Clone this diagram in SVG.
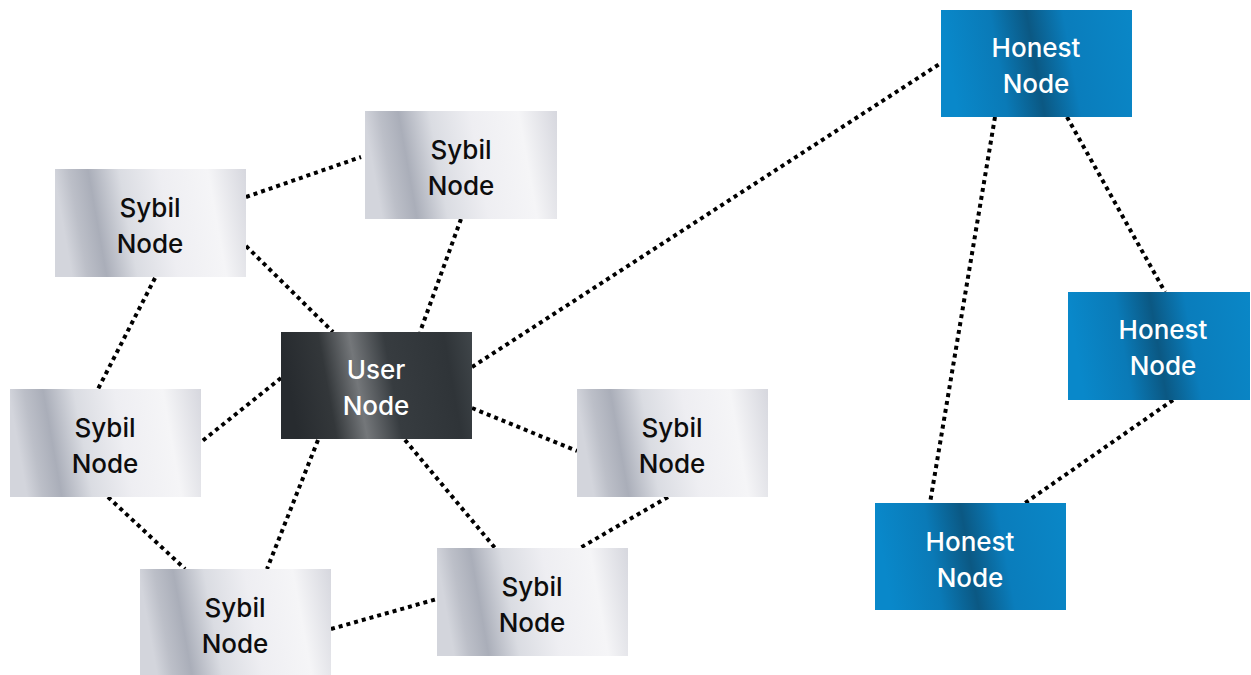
<svg xmlns="http://www.w3.org/2000/svg" width="1251" height="675" viewBox="0 0 1251 675">
  <defs>
    <linearGradient id="gSybil" x1="0" y1="0.1" x2="1" y2="0">
      <stop offset="0" stop-color="#d3d5dc"/>
      <stop offset="0.08" stop-color="#bcbfc8"/>
      <stop offset="0.18" stop-color="#aaaeb9"/>
      <stop offset="0.34" stop-color="#dadce2"/>
      <stop offset="0.55" stop-color="#eeeef2"/>
      <stop offset="0.8" stop-color="#f5f5f7"/>
      <stop offset="1" stop-color="#d6d7de"/>
    </linearGradient>
    <linearGradient id="gUser" x1="0" y1="0.1" x2="1" y2="0">
      <stop offset="0" stop-color="#272b2f"/>
      <stop offset="0.2" stop-color="#33373a"/>
      <stop offset="0.36" stop-color="#74777a"/>
      <stop offset="0.54" stop-color="#373c40"/>
      <stop offset="0.85" stop-color="#2f3438"/>
      <stop offset="1" stop-color="#40464a"/>
    </linearGradient>
    <linearGradient id="gHonest" x1="0" y1="0.1" x2="1" y2="0">
      <stop offset="0" stop-color="#0988ca"/>
      <stop offset="0.26" stop-color="#0a7ab7"/>
      <stop offset="0.45" stop-color="#0b5883"/>
      <stop offset="0.64" stop-color="#0a7dbc"/>
      <stop offset="1" stop-color="#0a87c7"/>
    </linearGradient>
    <style>
      .sybil { fill: url(#gSybil); }
      .user { fill: url(#gUser); }
      .honest { fill: url(#gHonest); }
      .lbl { font-family: Inter, "Noto Sans", "Liberation Sans", sans-serif; font-size: 26px; font-weight: 500; text-anchor: middle; }
      .dark { fill: #0d0d0d; }
      .light { fill: #ffffff; }
      .link { stroke: #000000; stroke-width: 4; stroke-dasharray: 4 4; fill: none; }
    </style>
  </defs>

  <g id="connectors">
    <line class="link" x1="246" y1="197" x2="361" y2="157"/>
    <line class="link" x1="246" y1="246" x2="333" y2="332"/>
    <line class="link" x1="155" y1="278" x2="98" y2="389"/>
    <line class="link" x1="461" y1="219" x2="420" y2="332"/>
    <line class="link" x1="472" y1="367" x2="941" y2="63"/>
    <line class="link" x1="281" y1="378" x2="201" y2="442"/>
    <line class="link" x1="472" y1="408" x2="577" y2="451"/>
    <line class="link" x1="318" y1="440" x2="267" y2="569"/>
    <line class="link" x1="405" y1="440" x2="495" y2="548"/>
    <line class="link" x1="108" y1="497" x2="185" y2="569"/>
    <line class="link" x1="331" y1="629" x2="437" y2="599"/>
    <line class="link" x1="668" y1="497" x2="580" y2="548"/>
    <line class="link" x1="995" y1="117" x2="930" y2="503"/>
    <line class="link" x1="1067" y1="117" x2="1165" y2="292"/>
    <line class="link" x1="1173" y1="400" x2="1025" y2="503"/>
  </g>

  <g id="sybil-1">
    <rect class="sybil" x="55" y="169" width="191" height="108"/>
    <text class="lbl dark" x="150" y="217">Sybil</text>
    <text class="lbl dark" x="150" y="253">Node</text>
  </g>
  <g id="sybil-2">
    <rect class="sybil" x="365" y="111" width="192" height="108"/>
    <text class="lbl dark" x="461" y="159">Sybil</text>
    <text class="lbl dark" x="461" y="195">Node</text>
  </g>
  <g id="user-node">
    <rect class="user" x="281" y="332" width="191" height="107"/>
    <text class="lbl light" x="376" y="379">User</text>
    <text class="lbl light" x="376" y="415">Node</text>
  </g>
  <g id="sybil-3">
    <rect class="sybil" x="10" y="389" width="191" height="108"/>
    <text class="lbl dark" x="105" y="437">Sybil</text>
    <text class="lbl dark" x="105" y="473">Node</text>
  </g>
  <g id="sybil-4">
    <rect class="sybil" x="577" y="389" width="191" height="108"/>
    <text class="lbl dark" x="672" y="437">Sybil</text>
    <text class="lbl dark" x="672" y="473">Node</text>
  </g>
  <g id="sybil-5">
    <rect class="sybil" x="140" y="569" width="191" height="106"/>
    <text class="lbl dark" x="235" y="617">Sybil</text>
    <text class="lbl dark" x="235" y="653">Node</text>
  </g>
  <g id="sybil-6">
    <rect class="sybil" x="437" y="548" width="191" height="108"/>
    <text class="lbl dark" x="532" y="596">Sybil</text>
    <text class="lbl dark" x="532" y="632">Node</text>
  </g>
  <g id="honest-1">
    <rect class="honest" x="941" y="10" width="191" height="107"/>
    <text class="lbl light" x="1036" y="57">Honest</text>
    <text class="lbl light" x="1036" y="93">Node</text>
  </g>
  <g id="honest-2">
    <rect class="honest" x="1068" y="292" width="182" height="108"/>
    <text class="lbl light" x="1163" y="339">Honest</text>
    <text class="lbl light" x="1163" y="375">Node</text>
  </g>
  <g id="honest-3">
    <rect class="honest" x="875" y="503" width="191" height="107"/>
    <text class="lbl light" x="970" y="551">Honest</text>
    <text class="lbl light" x="970" y="587">Node</text>
  </g>
</svg>
